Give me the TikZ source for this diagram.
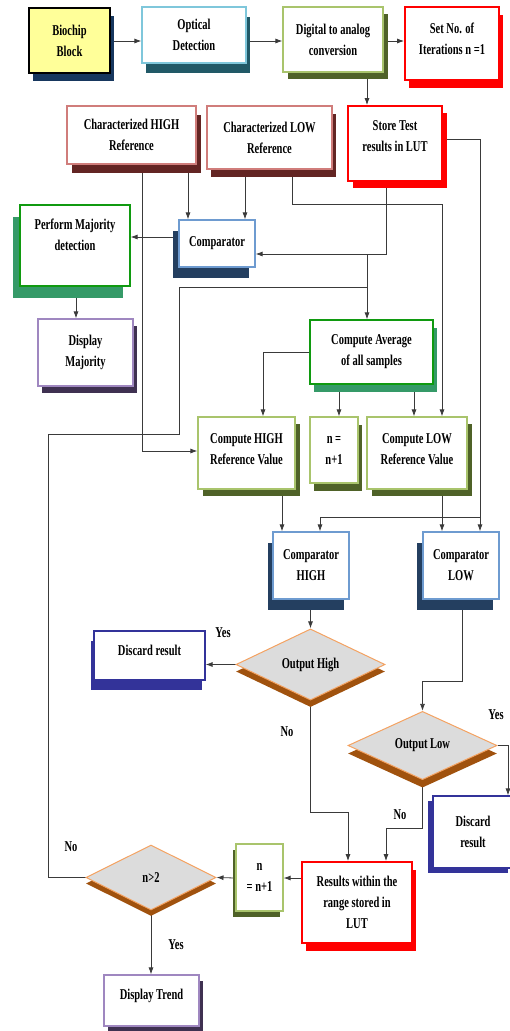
\documentclass[tikz,border=0pt]{standalone}
\usepackage{fontspec}
\setmainfont{Liberation Serif}[FakeStretch=0.7]
\usetikzlibrary{shapes.geometric,shadows,arrows.meta}
\pgfdeclarelayer{bg}
\pgfsetlayers{bg,main}
\definecolor{yfill}{HTML}{FFFF99}
\definecolor{navyA}{HTML}{17375E}
\definecolor{optB}{HTML}{7FC7DB}
\definecolor{tealS}{HTML}{215967}
\definecolor{lgB}{HTML}{A9C46C}
\definecolor{olS}{HTML}{4F6228}
\definecolor{redB}{HTML}{FF0000}
\definecolor{roseB}{HTML}{D07D7B}
\definecolor{marS}{HTML}{632523}
\definecolor{grB}{HTML}{109A10}
\definecolor{grS}{HTML}{359A68}
\definecolor{cmpB}{HTML}{6E9BD0}
\definecolor{cmpS}{HTML}{243F60}
\definecolor{purB}{HTML}{9F87C0}
\definecolor{purS}{HTML}{3F3151}
\definecolor{dfill}{HTML}{DCDCDC}
\definecolor{dB}{HTML}{F4A261}
\definecolor{dS}{HTML}{A0520E}
\definecolor{disB}{HTML}{33339A}
\definecolor{disS}{HTML}{333399}
\definecolor{lineC}{HTML}{3A3A3A}
\tikzset{
  fnt/.style={font=\bfseries\fontsize{15}{21}\selectfont},
  box/.style={draw, fill=white, line width=1.2pt, inner sep=0pt, align=center, fnt},
  txt/.style={align=center, inner sep=0pt, fnt},
  sz/.style 2 args={minimum width=#1pt, minimum height=#2pt},
  shd/.style n args={3}{drop shadow={shadow xshift=#1pt, shadow yshift=#2pt, fill=#3, opacity=1}},
  dia/.style={diamond, draw=dB, fill=dfill, line width=1pt, inner sep=0pt, fnt,
    minimum width=149pt, minimum height=65pt},
  arr/.style={draw=lineC, line width=0.8pt, -{Latex[length=7pt,width=5pt]}},
  ln/.style={draw=lineC, line width=0.8pt},
  lbl/.style={inner sep=0pt, fnt}
}
\begin{document}
\begin{tikzpicture}[x=1pt,y=-1pt]
\useasboundingbox (0,0) rectangle (509,1031);
% top row
\node[box, draw=black, fill=yfill, sz={81}{65}, shd={4}{-8}{navyA}] (bio) at (69.5,40.5) {Biochip\\Block};
\node[box, draw=optB, sz={104}{56}, shd={4}{-10}{tealS}] (opt) at (194,35) {Optical\\Detection};
\node[box, draw=lgB, sz={100}{65}, shd={5}{-7}{olS}] (dac) at (333,39.5) {Digital to analog\\conversion};
\node[box, draw=redB, line width=1.8pt, sz={94}{73}, shd={4}{-8}{redB},
  label={[txt,yshift=5pt]center:{Set No. of\\Iterations n =1}}] (set) at (452,43.5) {};
% second row
\node[box, draw=roseB, sz={129}{58}, shd={5}{-9}{marS}] (chigh) at (131.5,135) {Characterized HIGH\\Reference};
\node[box, draw=roseB, sz={125}{63}, shd={4}{-8}{marS}] (clow) at (269.5,137.5) {Characterized LOW\\Reference};
\node[box, draw=redB, line width=1.8pt, sz={94}{75}, shd={5}{-7}{redB},
  label={[txt,yshift=7pt]center:{Store Test\\results in LUT}}] (store) at (395,143.5) {};
% third row
\node[box, draw=grB, sz={110}{81}, shd={-7}{-12}{grS},
  label={[txt,yshift=11pt]center:{Perform Majority\\detection}}] (perf) at (75,245.5) {};
\node[box, draw=cmpB, sz={76}{47}, shd={-6}{-11}{cmpS}] (comp) at (217,243.5) {Comparator};
\node[box, draw=purB, sz={95}{67}, shd={4}{-7}{purS}] (dmaj) at (85.5,352.5) {Display\\Majority};
\node[box, draw=grB, sz={123}{64}, shd={4}{-8}{grS}] (avg) at (371.5,352) {Compute Average\\of all samples};
% fourth row
\node[box, draw=lgB, sz={97}{72}, shd={5}{-7}{olS},
  label={[txt,yshift=4pt]center:{Compute HIGH\\Reference Value}}] (chv) at (246.5,453) {};
\node[box, draw=lgB, sz={48}{66}, shd={4}{-8}{olS}] (nup) at (334,450) {n =\\n+1};
\node[box, draw=lgB, sz={100}{72}, shd={5}{-7}{olS},
  label={[txt,yshift=4pt]center:{Compute LOW\\Reference Value}}] (clv) at (417,453) {};
% comparators
\node[box, draw=cmpB, sz={76}{67}, shd={-5}{-11}{cmpS}] (cmph) at (311,565.5) {Comparator\\HIGH};
\node[box, draw=cmpB, sz={76}{67}, shd={-6}{-11}{cmpS}] (cmpl) at (461,565.5) {Comparator\\LOW};
% decisions
\node[dia, shd={0}{-7}{dS}] (oh) at (310.5,664.5) {Output High};
\node[box, draw=disB, sz={111}{49}, shd={-3}{-10}{disS},
  label={[txt,yshift=5pt]center:{Discard result}}] (dis1) at (149.5,655.5) {};
\node[dia, shd={0}{-8}{dS}] (ol) at (422.5,745.5) {Output Low};
\node[box, draw=disB, sz={80}{72}, shd={-5}{-5}{disS}] (dis2) at (473,832) {Discard\\result};
% bottom
\node[box, draw=redB, line width=1.8pt, sz={110}{81}, shd={4}{-8}{redB}] (res) at (357,902.5) {Results within the\\range stored in\\LUT};
\node[box, draw=lgB, sz={47}{67}, shd={-3}{-6}{olS}] (ndn) at (259.5,877.5) {n\\= n+1};
\node[dia, minimum width=130pt, shd={0}{-6}{dS}] (n2) at (151,877.5) {n>2};
\node[box, draw=purB, sz={95}{51}, shd={4}{-6}{purS},
  label={[txt,yshift=5pt]center:{Display Trend}}] (dtr) at (151.5,1000.5) {};
% labels
\node[lbl] (y1) at (223,633) {Yes};
\node[lbl] (n1) at (287,732) {No};
\node[lbl] (y2) at (496,715) {Yes};
\node[lbl] (n3) at (400,815) {No};
\node[lbl] (n4) at (71,847) {No};
\node[lbl] (y3) at (176,945) {Yes};
% connectors
\begin{pgfonlayer}{bg}
\draw[arr] (bio.east |- 0,41) -- (opt.west |- 0,41);
\draw[arr] (opt.east |- 0,41) -- (dac.west |- 0,41);
\draw[arr] (dac.east |- 0,41) -- (set.west |- 0,41);
\draw[arr] (dac.south -| 367,0) -- (store.north -| 367,0);
\draw[arr] (chigh.south -| 188,0) -- (comp.north -| 188,0);
\draw[arr] (clow.south -| 245,0) -- (comp.north -| 245,0);
\draw[arr] (store.south -| 386,0) -- (386,254) -- (comp.east |- 0,254);
\draw[arr] (367,254) -- (avg.north -| 367,0);
\draw[arr] (comp.west |- 0,237) -- (perf.east |- 0,237);
\draw[arr] (perf.south -| 76,0) -- (dmaj.north -| 76,0);
\draw[arr] (chigh.south -| 142,0) -- (142,451) -- (chv.west |- 0,451);
\draw[arr] (clow.south -| 292,0) -- (292,204) -- (442,204) -- (clv.north -| 442,0);
\draw[arr] (store.east |- 0,139) -- (480,139) -- (cmpl.north -| 480,0);
\draw[arr] (480,517) -- (320,517) -- (cmph.north -| 320,0);
\draw[arr] (avg.west |- 0,352) -- (263,352) -- (chv.north -| 263,0);
\draw[arr] (avg.south -| 339,0) -- (nup.north -| 339,0);
\draw[arr] (avg.south -| 414,0) -- (clv.north -| 414,0);
\draw[arr] (chv.south -| 282,0) -- (cmph.north -| 282,0);
\draw[arr] (clv.south -| 442,0) -- (cmpl.north -| 442,0);
\draw[arr] (cmph.south -| oh.north) -- (oh.north);
\draw[arr] (oh.west) -- (dis1.east |- oh.west);
\draw[arr] (cmpl.south -| 462,0) -- (462,681) -- (ol.north |- 0,681) -- (ol.north);
\draw[arr] (ol.east) -- (508,745.5) -- (dis2.north -| 508,0);
\draw[arr] (oh.south) -- (oh.south |- 0,812) -- (348,812) -- (res.north -| 348,0);
\draw[arr] (ol.south) -- (ol.south |- 0,828) -- (386,828) -- (res.north -| 386,0);
\draw[arr] (res.west |- 0,878) -- (ndn.east |- 0,878);
\draw[arr] (ndn.west |- 0,878) -- (n2.east);
\draw[ln] (n2.west) -- (48,877.5) -- (48,434) -- (179,434) -- (179,287) -- (367,287);
\draw[arr] (n2.south) -- (dtr.north -| n2.south);
\end{pgfonlayer}
\end{tikzpicture}
\end{document}
